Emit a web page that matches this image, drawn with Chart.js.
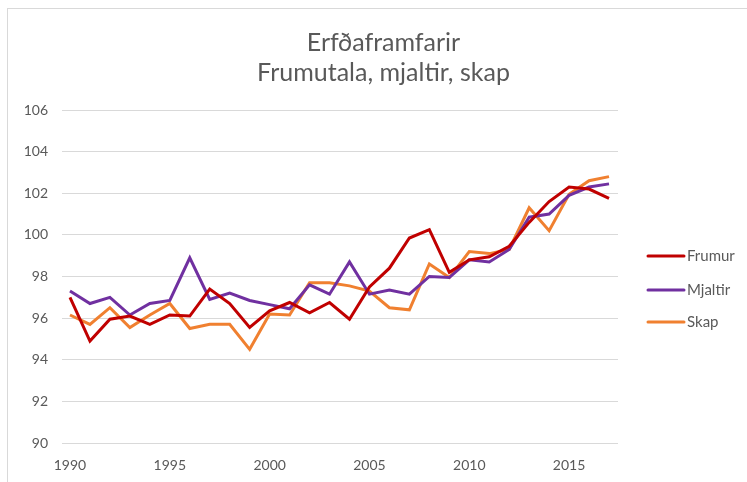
<!DOCTYPE html>
<html>
<head>
<meta charset="utf-8">
<script src="https://cdn.jsdelivr.net/npm/chart.js@4/dist/chart.umd.min.js"></script>
<style>
    html, body { margin: 0; padding: 0; background: #fff; }
    #wrap { position: relative; width: 747px; height: 482px; }
    #frame { position: absolute; left: 7px; top: 8px; right: 0; bottom: 0; border-left: 1px solid #d9d9d9; border-top: 1px solid #d9d9d9; }
    canvas { position: absolute; left: 0; top: 0; }
</style>
</head>
<body>
<div id="wrap">
    <div id="frame"></div>
    <canvas id="grafico" width="747" height="482"></canvas>
</div>
<script>
const ar = [1990, 1991, 1992, 1993, 1994, 1995, 1996, 1997, 1998, 1999,
    2000, 2001, 2002, 2003, 2004, 2005, 2006, 2007, 2008, 2009,
    2010, 2011, 2012, 2013, 2014, 2015, 2016, 2017]

const frumur = [97.0, 94.9, 95.95, 96.1, 95.7, 96.15, 96.1, 97.4, 96.7, 95.55,
    96.35, 96.75, 96.25, 96.75, 95.95, 97.5, 98.4, 99.85, 100.25, 98.2,
    98.8, 98.95, 99.45, 100.6, 101.6, 102.3, 102.2, 101.75]

const mjaltir = [97.3, 96.7, 97.0, 96.15, 96.7, 96.85, 98.9, 96.9, 97.2, 96.85,
    96.65, 96.45, 97.6, 97.15, 98.7, 97.15, 97.35, 97.15, 98.0, 97.95,
    98.8, 98.7, 99.3, 100.85, 101.0, 101.9, 102.3, 102.45]

const skap = [96.15, 95.7, 96.5, 95.55, 96.15, 96.7, 95.5, 95.7, 95.7, 94.5,
    96.2, 96.15, 97.7, 97.7, 97.55, 97.3, 96.5, 96.4, 98.6, 97.95,
    99.2, 99.1, 99.3, 101.3, 100.2, 101.95, 102.6, 102.8]

const xTicks = [1990, 1995, 2000, 2005, 2010, 2015]
const yTicks = [90, 92, 94, 96, 98, 100, 102, 104, 106]

const fonte = 'Lato, "Open Sans", sans-serif'
const cinza = '#595959'

const series = [
    { nome: 'Frumur', dados: frumur, cor: '#C00000' },
    { nome: 'Mjaltir', dados: mjaltir, cor: '#7030A0' },
    { nome: 'Skap', dados: skap, cor: '#F08030' }
]

// legenda desenhada a direita, como no original
const legendaPlugin = {
    id: 'legendaDireita',
    afterDraw(chart) {
        const ctx = chart.ctx
        const ys = [256, 290, 322]
        ctx.save()
        ctx.font = '15px ' + fonte
        ctx.textBaseline = 'middle'
        chart.data.datasets.forEach((ds, i) => {
            ctx.strokeStyle = ds.borderColor
            ctx.lineWidth = 3
            ctx.lineCap = 'round'
            ctx.beginPath()
            ctx.moveTo(648, ys[i])
            ctx.lineTo(684, ys[i])
            ctx.stroke()
            ctx.fillStyle = cinza
            ctx.fillText(ds.label, 687, ys[i])
        })
        ctx.restore()
    }
}

new Chart(document.getElementById('grafico'), {
    type: 'line',
    data: {
        datasets: series.map(s => ({
            label: s.nome,
            data: s.dados.map((v, i) => ({ x: ar[i], y: v })),
            borderColor: s.cor,
            backgroundColor: s.cor,
            borderWidth: 3,
            pointRadius: 0,
            tension: 0
        }))
    },
    options: {
        responsive: false,
        animation: false,
        layout: { padding: { left: 20, right: 0, top: 0, bottom: 0 } },
        plugins: {
            legend: { display: false },
            tooltip: { enabled: false },
            title: {
                display: true,
                text: ['Erfðaframfarir', 'Frumutala, mjaltir, skap'],
                color: cinza,
                font: { family: fonte, size: 25, weight: 'normal', lineHeight: 1.2 },
                padding: { top: 28, bottom: 22 }
            }
        },
        scales: {
            x: {
                type: 'linear',
                min: 1989.6,
                max: 2017.45,
                afterBuildTicks: axis => { axis.ticks = xTicks.map(v => ({ value: v })) },
                afterFit: axis => { axis.height = 39 },
                grid: { display: false, drawTicks: false },
                border: { display: false },
                ticks: {
                    color: cinza,
                    font: { family: fonte, size: 14 },
                    padding: 14,
                    maxRotation: 0,
                    callback: v => String(v)
                }
            },
            y: {
                min: 90,
                max: 106,
                afterBuildTicks: axis => { axis.ticks = yTicks.map(v => ({ value: v })) },
                afterFit: axis => { axis.width = 42 },
                grid: { color: '#d9d9d9', lineWidth: 1, drawTicks: false },
                border: { display: false },
                ticks: {
                    color: cinza,
                    font: { family: fonte, size: 14 },
                    padding: 14
                }
            },
            // eixo vazio so para reservar o espaco da legenda
            espaco: {
                position: 'right',
                display: true,
                afterFit: axis => { axis.width = 129 },
                grid: { display: false, drawTicks: false },
                border: { display: false },
                ticks: { display: false }
            }
        }
    },
    plugins: [legendaPlugin]
})
</script>
</body>
</html>
